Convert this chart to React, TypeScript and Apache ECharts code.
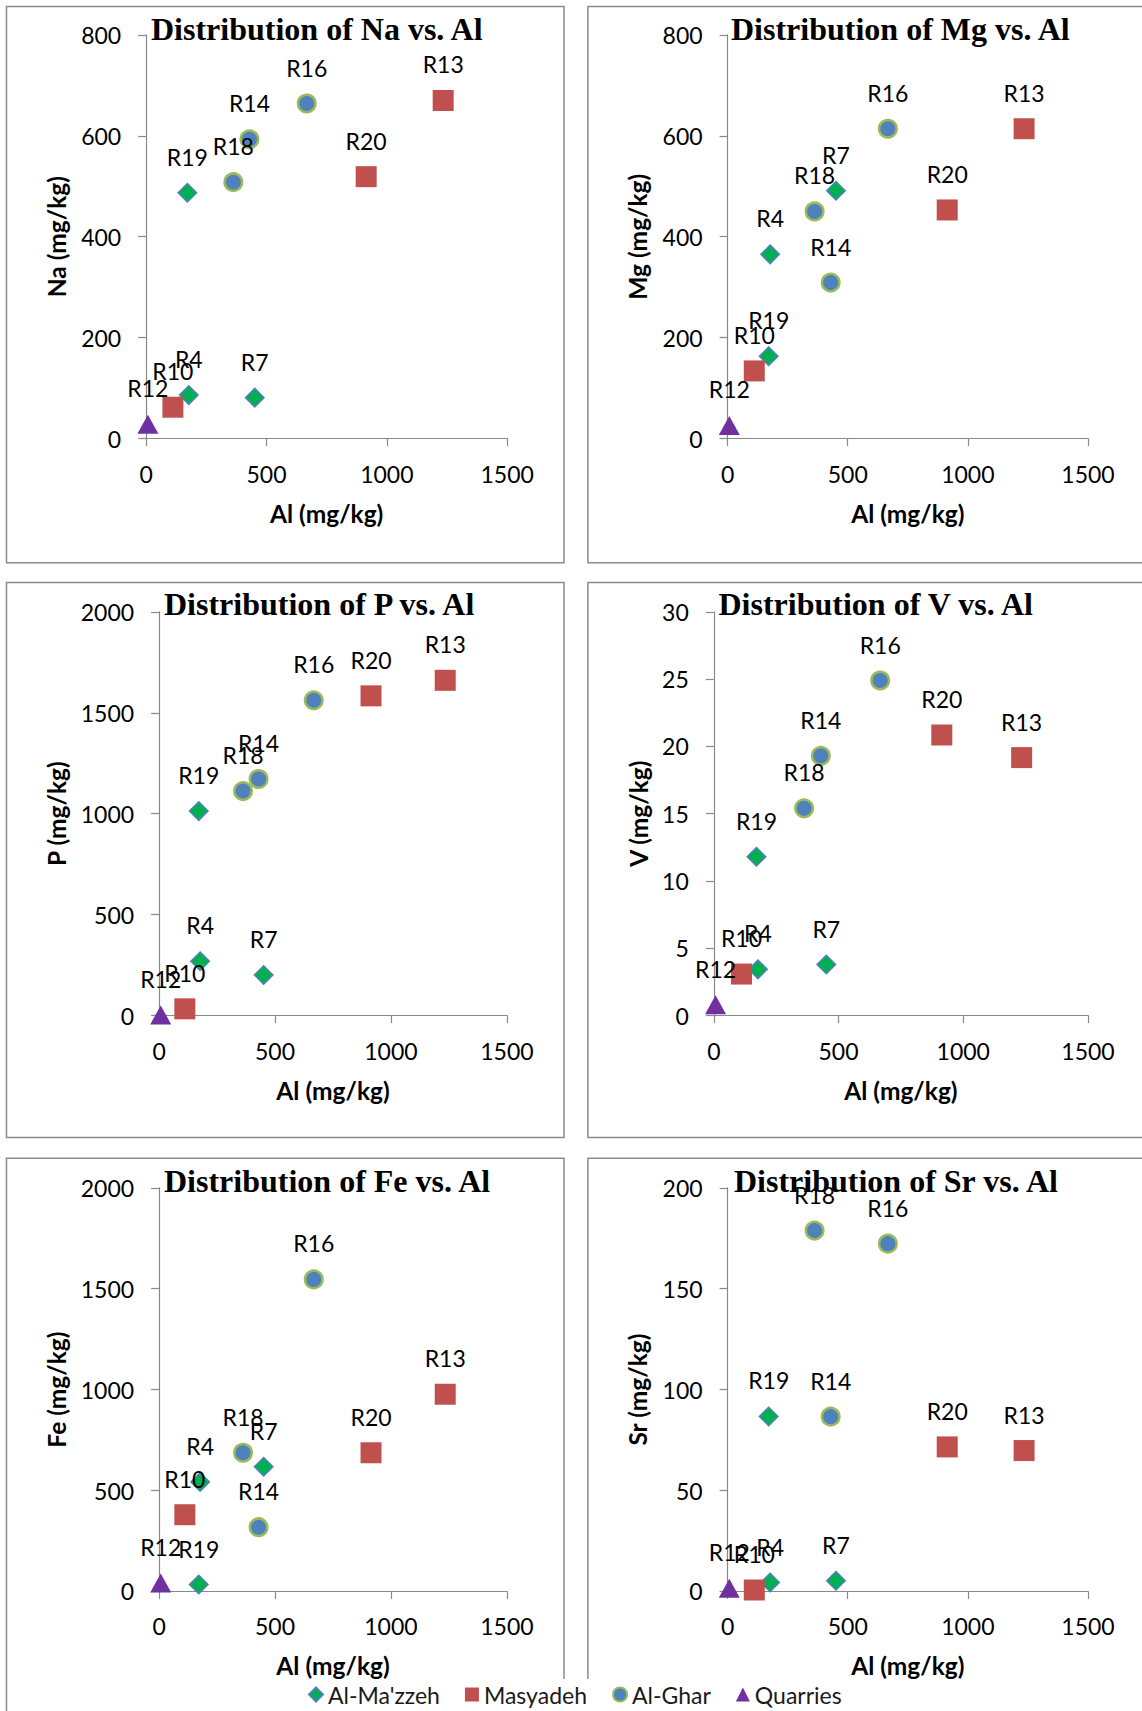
import React, { useEffect, useRef } from "react";
import * as echarts from "echarts";

// ---- data ----
const groups = ["Al-Ma'zzeh", "Masyadeh", "Al-Ghar", "Quarries"];
const sites = ["R4", "R7", "R19", "R10", "R13", "R20", "R14", "R16", "R18", "R12"];
const siteGroup = [0, 0, 0, 1, 1, 1, 2, 2, 2, 3];
const alValues = [177, 451, 171, 111, 1234, 914, 429, 667, 362, 7];
const naValues = [86, 81, 487, 62, 670, 519, 593, 664, 508, 28];
const mgValues = [365, 491, 163, 134, 614, 453, 309, 614, 450, 26];
const pValues = [269, 201, 1013, 33, 1661, 1584, 1172, 1562, 1112, 3];
const vValues = [3.43, 3.79, 11.8, 3.08, 19.17, 20.85, 19.3, 24.9, 15.4, 0.8];
const feValues = [542, 618, 34, 380, 977, 687, 318, 1546, 687, 42];
const srValues = [4.4, 5.3, 86.7, 0.7, 69.8, 71.6, 86.6, 172.3, 178.8, 1.5];

const elements = ["Na", "Mg", "P", "V", "Fe", "Sr"];
const elementValues = [naValues, mgValues, pValues, vValues, feValues, srValues];
const yMax = [800, 800, 2000, 30, 2000, 200];
const yInterval = [200, 200, 500, 5, 500, 50];
const xMax = 1500;
const xInterval = 500;

// ---- layout / styles ----
const PH = 403.6;
const grids = [
  { left: 146.2, top: 34.9, width: 361, height: PH, yGap: 77, titleLeft: 151, titleTop: 13 },
  { left: 727.6, top: 34.9, width: 360.4, height: PH, yGap: 78, titleLeft: 731, titleTop: 13 },
  { left: 159.1, top: 611.9, width: 347.8, height: PH, yGap: 90.5, titleLeft: 164, titleTop: 588 },
  { left: 713.8, top: 611.9, width: 374.2, height: PH, yGap: 63, titleLeft: 718.5, titleTop: 588 },
  { left: 159.1, top: 1187.8, width: 347.8, height: PH, yGap: 90.5, titleLeft: 164, titleTop: 1164.5 },
  { left: 727.6, top: 1187.8, width: 360.4, height: PH, yGap: 78, titleLeft: 734, titleTop: 1164.5 },
];
const frames = [
  { x: 6.5, y: 6.5, w: 557.5, h: 556.3 },
  { x: 587.9, y: 6.5, w: 600, h: 556.3 },
  { x: 6.5, y: 582.4, w: 557.5, h: 555.2 },
  { x: 587.9, y: 582.4, w: 600, h: 555.2 },
  { x: 6.5, y: 1158.3, w: 557.5, h: 600 },
  { x: 587.9, y: 1158.3, w: 600, h: 600 },
];
const groupStyles = [
  { symbol: "diamond", symbolSize: 18.5, itemStyle: { color: "#00B050", borderColor: "#4F81BD", borderWidth: 1.5, opacity: 1 } },
  { symbol: "rect", symbolSize: 21, itemStyle: { color: "#C0504D", opacity: 1 } },
  { symbol: "circle", symbolSize: 17.5, itemStyle: { color: "#4F81BD", borderColor: "#9BBB59", borderWidth: 2.5, opacity: 1 } },
  { symbol: "triangle", symbolSize: [21, 19], itemStyle: { color: "#7030A0", opacity: 1 } },
];
const legendIcons = ["diamond", "rect", "circle", "triangle"];
const sans = "Lato, 'Open Sans', sans-serif";
const serif = "'Liberation Serif', 'Times New Roman', serif";
const axisGray = "#898989";

export default function App() {
  const ref = useRef<HTMLDivElement>(null);
  useEffect(() => {
    document.body.style.margin = "0";
    if (!ref.current) return;
    const chart = echarts.init(ref.current, undefined, { renderer: "svg" });

    const xAxes = grids.map((g, i) => ({
      type: "value",
      gridIndex: i,
      min: 0,
      max: xMax,
      interval: xInterval,
      name: "Al (mg/kg)",
      nameLocation: "middle",
      nameGap: 62,
      nameTextStyle: { fontFamily: sans, fontWeight: "bold", fontSize: 24.5, color: "#000" },
      axisLine: { show: true, onZero: false, lineStyle: { color: axisGray, width: 1.2 } },
      axisTick: { show: true, length: 7.5, lineStyle: { color: axisGray, width: 1.2 } },
      axisLabel: { margin: 23.5, fontFamily: sans, fontSize: 23, color: "#000", formatter: (v: number) => String(v) },
      splitLine: { show: false },
    }));
    const yAxes = grids.map((g, i) => ({
      type: "value",
      gridIndex: i,
      min: 0,
      max: yMax[i],
      interval: yInterval[i],
      name: `${elements[i]} (mg/kg)`,
      nameLocation: "middle",
      nameGap: g.yGap,
      nameTextStyle: { fontFamily: sans, fontWeight: "bold", fontSize: 24.5, color: "#000" },
      axisLine: { show: true, onZero: false, lineStyle: { color: axisGray, width: 1.2 } },
      axisTick: { show: true, length: 8, lineStyle: { color: axisGray, width: 1.2 } },
      axisLabel: { margin: 25, fontFamily: sans, fontSize: 23, color: "#000", formatter: (v: number) => String(v) },
      splitLine: { show: false },
    }));

    const series: any[] = [];
    elements.forEach((el, i) => {
      groups.forEach((gname, gi) => {
        const data = sites
          .map((s, k) => ({ s, k }))
          .filter(({ k }) => siteGroup[k] === gi)
          .map(({ s, k }) => ({ name: s, value: [alValues[k], elementValues[i][k]] }));
        series.push({
          type: "scatter",
          name: gname,
          xAxisIndex: i,
          yAxisIndex: i,
          clip: false,
          data,
          ...groupStyles[gi],
          label: {
            show: true,
            formatter: "{b}",
            position: "inside",
            offset: [0, -36],
            fontFamily: sans,
            fontSize: 23,
            color: "#000",
          },
          emphasis: { disabled: true },
        });
      });
    });

    chart.setOption({
      animation: false,
      backgroundColor: "#fff",
      title: grids.map((g, i) => ({
        text: `Distribution of ${elements[i]} vs. Al`,
        left: g.titleLeft,
        top: g.titleTop,
        padding: 0,
        textStyle: { fontFamily: serif, fontWeight: "bold", fontSize: 32, color: "#000" },
      })),
      grid: grids.map((g) => ({ left: g.left, top: g.top, width: g.width, height: g.height })),
      xAxis: xAxes,
      yAxis: yAxes,
      legend: {
        left: 300,
        top: 1679,
        itemGap: 25,
        itemWidth: 14,
        itemHeight: 14,
        padding: [4, 10, 20, 8],
        backgroundColor: "#fff",
        selectedMode: false,
        textStyle: { fontFamily: sans, fontSize: 23, color: "#1a1a1a" },
        data: groups.map((n, gi) => ({ name: n, icon: legendIcons[gi] })),
      },
      graphic: frames.map((f) => ({
        type: "rect",
        silent: true,
        shape: { x: f.x, y: f.y, width: f.w, height: f.h },
        style: { fill: "none", stroke: "#8c8c8c", lineWidth: 1.5 },
      })),
      series,
    });
    return () => chart.dispose();
  }, []);
  return <div ref={ref} style={{ width: 1142, height: 1711 }} />;
}
